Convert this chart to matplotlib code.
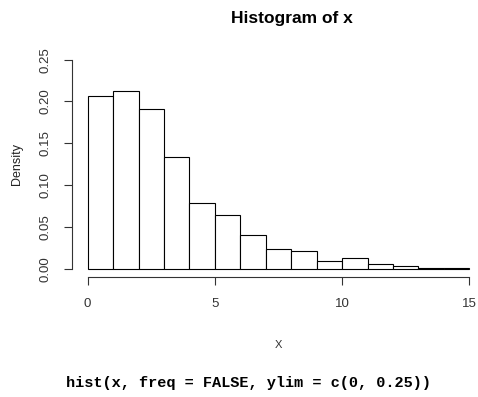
import matplotlib
matplotlib.use("Agg")
import matplotlib.pyplot as plt
import numpy as np

# bin edges (width 1) and density heights
edges = list(range(0, 16))
density = [0.206, 0.212, 0.191, 0.133, 0.078, 0.064, 0.040, 0.023, 0.021,
           0.009, 0.0125, 0.006, 0.0035, 0.0006, 0.0004]
xticks = [0, 5, 10, 15]
yticks = [0.00, 0.05, 0.10, 0.15, 0.20, 0.25]

plt.rcParams['font.family'] = ['Liberation Sans', 'DejaVu Sans']

fig = plt.figure(figsize=(4.78, 3.97), dpi=100)
ax = fig.add_axes([72.4 / 478, 120 / 397, 412.2 / 478, 225.7 / 397])

ax.bar(edges[:-1], density, width=1, align='edge', color='white',
       edgecolor='black', linewidth=0.8)

ax.set_xlim(-0.6, 15.6)
ax.set_ylim(-0.01, 0.26)
for s in ['top', 'right']:
    ax.spines[s].set_visible(False)
ax.spines['left'].set_bounds(0, 0.25)
ax.spines['bottom'].set_bounds(0, 15)
for s in ['left', 'bottom']:
    ax.spines[s].set_color('#333333')
    ax.spines[s].set_linewidth(0.8)

ax.set_xticks(xticks)
ax.set_xticklabels([str(v) for v in xticks])
ax.set_yticks(yticks)
ax.set_yticklabels(['%.2f' % v for v in yticks], rotation=90, va='center')
ax.tick_params(axis='both', length=6, width=0.8, color='#333333',
               labelsize=9.5, labelcolor='#333333', pad=9)

ax.set_xlabel('X', fontsize=8, color='#333333', labelpad=22)
ax.set_ylabel('Density', fontsize=9, color='#222222', labelpad=12)

fig.text(292 / 478, 1 - 19 / 397, 'Histogram of x', fontsize=12.5,
         fontweight='bold', ha='center', va='center')

fig.text(249 / 478, 1 - 383 / 397, 'hist(x, freq = FALSE, ylim = c(0, 0.25))',
         family='Liberation Mono', fontweight='bold', fontsize=11,
         ha='center', va='center')

fig.savefig('out.png', dpi=100)
